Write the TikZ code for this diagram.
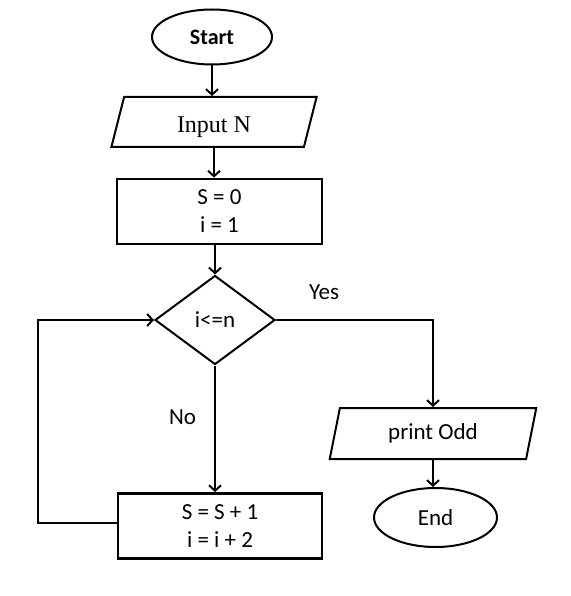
\documentclass[tikz,border=0pt]{standalone}
\usepackage{fontspec}
\setmainfont{Carlito}
\newfontfamily\serifin{Liberation Serif}
\usetikzlibrary{shapes.geometric,arrows.meta}
\begin{document}
\begin{tikzpicture}[x=1pt,y=-1pt,
  font=\fontsize{23pt}{28pt}\selectfont,
  shp/.style={draw, line width=2pt, inner sep=0pt, align=center},
  term/.style={shp, ellipse},
  proc/.style={shp, rectangle, line width=2.8pt},
  io/.style={shp, trapezium, trapezium left angle=76, trapezium right angle=104, trapezium stretches=true},
  dec/.style={shp, diamond},
  conn/.style={line width=2pt, -{Straight Barb[length=5.5pt,width=12pt,line width=2pt]}},
  lbl/.style={inner sep=0pt}
]
\useasboundingbox (0,0) rectangle (570,596);
\node[term, minimum width=120pt, minimum height=55pt] (start) at (212,37) {\fontsize{22pt}{26pt}\selectfont\textbf{Start}};
\node[io, minimum width=206pt, minimum height=50pt, text height=21pt, text depth=0pt, font=\serifin\fontsize{24pt}{28pt}\selectfont] (input) at (214,122) {Input N};
\node[proc, minimum width=205pt, minimum height=65pt] (init) at (219.5,211.5) {S = 0\\ i = 1};
\node[dec, minimum width=120pt, minimum height=89pt] (cond) at (215,320) {i<=n};
\node[proc, minimum width=204pt, minimum height=65pt] (upd) at (220,526) {S = S + 1\\ i = i + 2};
\node[io, minimum width=208pt, minimum height=51pt] (print) at (433,433.5) {print Odd};
\node[term, minimum width=123pt, minimum height=59pt] (end) at (435.5,517.5) {End};
\coordinate (loopL) at (38,523);
\coordinate (loopT) at (38,320);
\coordinate (yesR) at (433,320);

\draw[conn] (start.south) -- (start.south |- input.north);
\draw[conn] (input.south) -- (input.south |- init.north);
\draw[conn] (cond.north |- init.south) -- (cond.north);
\draw[conn] (cond.south) -- (cond.south |- upd.north) node[lbl, pos=0.41, left=18pt] {No};
\draw[conn] (cond.east) -- (yesR) -- (yesR |- print.north);
\draw[conn] (print.south -| yesR) -- (yesR |- end.north);
\draw[conn] (upd.west |- loopL) -- (loopL) -- (loopT) -- (cond.west);
\node[lbl] (yes) at (324,292) {Yes};
\end{tikzpicture}
\end{document}
